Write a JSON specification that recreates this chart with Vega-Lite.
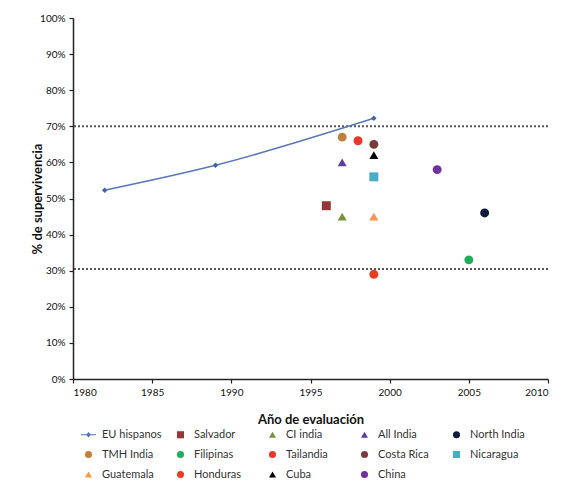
{
  "$schema": "https://vega.github.io/schema/vega-lite/v6.json",
  "width": 475,
  "height": 361,
  "autosize": {"type": "none"},
  "padding": {"left": 73, "top": 18, "right": 14, "bottom": 103},
  "background": "white",
  "config": {
    "font": "Lato",
    "view": {"stroke": null},
    "axis": {
      "domainColor": "#222222",
      "domainWidth": 1.5,
      "tickColor": "#222222",
      "tickSize": 4,
      "tickWidth": 1.2,
      "grid": false,
      "labelFont": "Lato",
      "labelFontSize": 10,
      "labelColor": "#111111",
      "labelOverlap": false,
      "titleFont": "Lato",
      "titleFontSize": 13,
      "titleFontWeight": "bold",
      "titleColor": "#111111"
    }
  },
  "datasets": {
    "pts": [
      {"serie": "EU hispanos", "year": 1982, "pct": 0.523},
      {"serie": "EU hispanos", "year": 1989, "pct": 0.592},
      {"serie": "EU hispanos", "year": 1999, "pct": 0.722},
      {"serie": "Salvador", "year": 1996, "pct": 0.48},
      {"serie": "CI india", "year": 1997, "pct": 0.45},
      {"serie": "All India", "year": 1997, "pct": 0.60},
      {"serie": "North India", "year": 2006, "pct": 0.46},
      {"serie": "TMH India", "year": 1997, "pct": 0.67},
      {"serie": "Filipinas", "year": 2005, "pct": 0.33},
      {"serie": "Tailandia", "year": 1998, "pct": 0.66},
      {"serie": "Costa Rica", "year": 1999, "pct": 0.65},
      {"serie": "Nicaragua", "year": 1999, "pct": 0.56},
      {"serie": "Guatemala", "year": 1999, "pct": 0.45},
      {"serie": "Honduras", "year": 1999, "pct": 0.29},
      {"serie": "Cuba", "year": 1999, "pct": 0.62},
      {"serie": "China", "year": 2003, "pct": 0.58}
    ],
    "refs": [
      {"pct": 0.70},
      {"pct": 0.305}
    ]
  },
  "layer": [
    {
      "data": {"name": "refs"},
      "mark": {"type": "rule", "color": "#555555", "strokeWidth": 2, "strokeDash": [2, 2]},
      "encoding": {
        "y": {
          "field": "pct", "type": "quantitative", "scale": {"domain": [0, 1]}, "title": "% de supervivencia",
          "axis": {"values": [0, 0.1, 0.2, 0.3, 0.4, 0.5, 0.6, 0.7, 0.8, 0.9, 1.0], "format": ".0%", "labelPadding": 4, "titlePadding": -5}
        }
      }
    },
    {
      "data": {"name": "pts"},
      "transform": [{"filter": "datum.serie === 'EU hispanos'"}],
      "mark": {
        "type": "line",
        "color": "#5a78b8",
        "strokeWidth": 1.6,
        "interpolate": "monotone",
        "point": {"shape": "diamond", "size": 30, "filled": true, "color": "#3f63ad"}
      },
      "encoding": {
        "x": {
          "field": "year", "type": "quantitative", "scale": {"domain": [1980, 2010], "nice": false, "zero": false}, "title": "Año de evaluación",
          "axis": {"values": [1980, 1985, 1990, 1995, 2000, 2005, 2010], "format": "d", "labelPadding": 4, "titlePadding": 16}
        },
        "y": {
          "field": "pct", "type": "quantitative", "scale": {"domain": [0, 1]}, "title": "% de supervivencia",
          "axis": {"values": [0, 0.1, 0.2, 0.3, 0.4, 0.5, 0.6, 0.7, 0.8, 0.9, 1.0], "format": ".0%", "labelPadding": 4, "titlePadding": -5}
        }
      }
    },
    {
      "data": {"name": "pts"},
      "transform": [{"filter": "datum.serie !== 'EU hispanos'"}],
      "mark": {"type": "point", "filled": true, "size": 80, "opacity": 1},
      "encoding": {
        "x": {
          "field": "year", "type": "quantitative",
          "scale": {"domain": [1980, 2010], "nice": false, "zero": false},
          "axis": {"values": [1980, 1985, 1990, 1995, 2000, 2005, 2010], "format": "d", "labelPadding": 4, "titlePadding": 16},
          "title": "Año de evaluación"
        },
        "y": {
          "field": "pct", "type": "quantitative",
          "scale": {"domain": [0, 1]},
          "axis": {"values": [0, 0.1, 0.2, 0.3, 0.4, 0.5, 0.6, 0.7, 0.8, 0.9, 1.0], "format": ".0%", "labelPadding": 4, "titlePadding": -5},
          "title": "% de supervivencia"
        },
        "color": {
          "field": "serie", "type": "nominal",
          "scale": {
            "domain": ["EU hispanos", "Salvador", "CI india", "All India", "North India", "TMH India", "Filipinas", "Tailandia", "Costa Rica", "Nicaragua", "Guatemala", "Honduras", "Cuba", "China"],
            "range": ["#4f72b8", "#953735", "#77933c", "#5f3ca0", "#0f1b3d", "#c0803c", "#1fae5a", "#e8382d", "#7b3b3b", "#4bacc6", "#f79646", "#ee3b24", "#000000", "#7030a0"]
          },
          "legend": {
            "orient": "none",
            "legendX": 10,
            "legendY": 411,
            "direction": "horizontal",
            "columns": 5,
            "gridAlign": "all",
            "columnPadding": 13,
            "rowPadding": 8,
            "symbolSize": 50,
            "labelFont": "Lato",
            "labelFontSize": 11,
            "labelColor": "#333333",
            "labelOffset": 8,
            "title": null
          }
        },
        "shape": {
          "field": "serie", "type": "nominal",
          "scale": {
            "domain": ["EU hispanos", "Salvador", "CI india", "All India", "North India", "TMH India", "Filipinas", "Tailandia", "Costa Rica", "Nicaragua", "Guatemala", "Honduras", "Cuba", "China"],
            "range": ["M-2.1,-0.16L-0.55,-0.16L0,-0.75L0.55,-0.16L2.1,-0.16L2.1,0.16L0.55,0.16L0,0.75L-0.55,0.16L-2.1,0.16Z", "square", "triangle-up", "triangle-up", "circle", "circle", "circle", "circle", "circle", "square", "triangle-up", "circle", "triangle-up", "circle"]
          },
          "legend": {
            "orient": "none",
            "legendX": 10,
            "legendY": 411,
            "direction": "horizontal",
            "columns": 5,
            "gridAlign": "all",
            "columnPadding": 13,
            "rowPadding": 8,
            "symbolSize": 50,
            "labelFont": "Lato",
            "labelFontSize": 11,
            "labelColor": "#333333",
            "labelOffset": 8,
            "title": null
          }
        }
      }
    }
  ]
}
